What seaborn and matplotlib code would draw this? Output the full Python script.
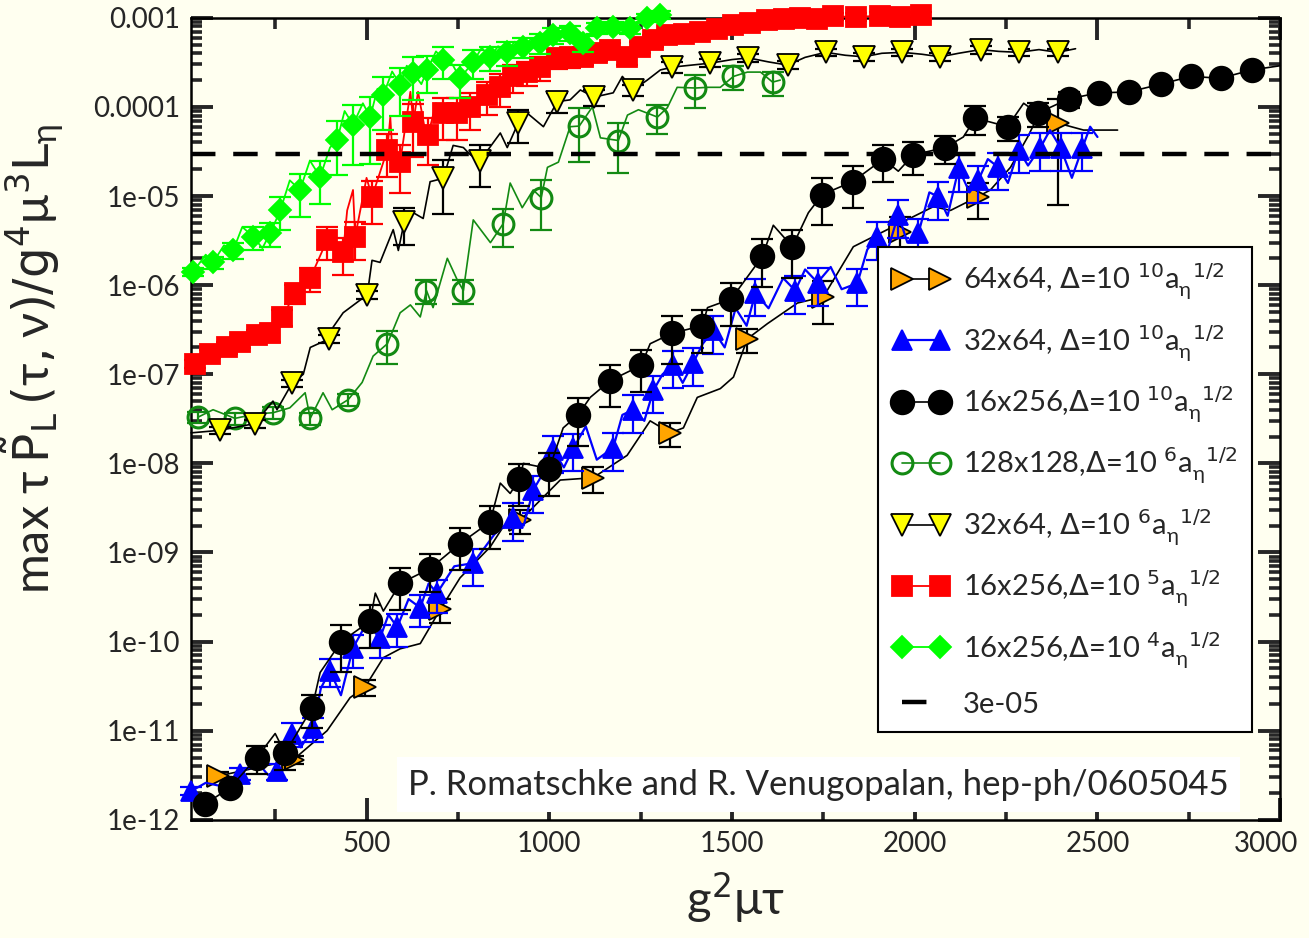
import numpy as np
import pandas as pd
import matplotlib
matplotlib.use('Agg')
import matplotlib.pyplot as plt
import matplotlib.transforms as mtransforms
import seaborn as sns
from matplotlib.lines import Line2D
from matplotlib.ticker import MultipleLocator, FixedLocator, FixedFormatter, LogLocator, NullFormatter

# ---- data ----
# 64x64, Delta=10^10 (orange right triangles, black line)
or_x = [94, 299, 496, 702, 921, 1120, 1331, 1542, 1750, 1960, 2172, 2391]
or_y = [3.1e-12, 4.7e-12, 3.1e-11, 2.3e-10, 2.3e-9, 6.9e-9, 2.2e-8, 2.5e-7, 7.4e-7, 4e-6, 9.8e-6, 6.6e-5]
or_rel = [0.1, 0.1, 0.2, 0.3, 0.3, 0.33, 0.3, 0.3, 0.5, 0.45, 0.43, 0.88]
or_lx = [94, 299, 392, 455, 496, 546, 592, 647, 702, 756, 838, 871, 921, 1030, 1120, 1213, 1276, 1331,
         1367, 1405, 1468, 1504, 1542, 1597, 1679, 1750, 1832, 1925, 2051, 2098, 2172, 2207, 2262,
         2309, 2336, 2391, 2462, 2555]
or_ly = [3.1e-12, 4.7e-12, 1.0e-11, 2.35e-11, 3.1e-11, 6.6e-11, 8.3e-11, 9.5e-11, 2.3e-10, 5.2e-10,
         1.15e-9, 1.86e-9, 2.3e-9, 6.5e-9, 6.9e-9, 1.23e-8, 3.0e-8, 2.2e-8, 2.5e-8, 5.5e-8, 6.9e-8,
         9.3e-8, 2.5e-7, 3.7e-7, 6.3e-7, 7.4e-7, 2.7e-6, 4.2e-6, 7.6e-6, 6.9e-6, 9.8e-6, 1.17e-5,
         2.1e-5, 4.6e-5, 7.7e-5, 6.6e-5, 5.5e-5, 5.5e-5]

# 32x64, Delta=10^10 (blue triangles)
bl_x = [20, 154, 255, 296, 354, 400, 463, 537, 584, 647, 693, 792, 901, 956, 1011, 1066, 1175, 1230,
        1285, 1339, 1394, 1449, 1564, 1673, 1734, 1843, 1898, 1955, 2010, 2065, 2120, 2174, 2229,
        2284, 2344, 2399, 2459]
bl_y = [2.1e-12, 3.3e-12, 3.5e-12, 9.3e-12, 1.07e-11, 4.7e-11, 8.5e-11, 1.1e-10, 1.45e-10, 2.4e-10,
        3.5e-10, 7.6e-10, 2.45e-9, 5e-9, 1.4e-8, 1.48e-8, 1.5e-8, 4e-8, 6.6e-8, 1.26e-7, 1.35e-7,
        3.1e-7, 8.1e-7, 8.7e-7, 1.07e-6, 1.05e-6, 3.5e-6, 6.2e-6, 3.8e-6, 9.8e-6, 2.04e-5, 1.5e-5,
        2.1e-5, 3.3e-5, 3.5e-5, 3.5e-5, 3.5e-5]
bl_rel = [0.1, 0.15, 0.2, 0.3, 0.3, 0.35, 0.4, 0.4, 0.4, 0.4, 0.4, 0.45, 0.45, 0.45, 0.45, 0.45, 0.45,
          0.45, 0.45, 0.45, 0.45, 0.45, 0.45, 0.45, 0.45, 0.45, 0.45, 0.45, 0.45, 0.45, 0.45, 0.45,
          0.45, 0.45, 0.45, 0.45, 0.45]
bl_lx = [20, 60, 100, 154, 200, 230, 255, 275, 296, 320, 354, 375, 400, 430, 463, 500, 537, 560, 584,
         615, 647, 670, 693, 740, 792, 850, 901, 930, 956, 985, 1011, 1040, 1066, 1100, 1130, 1175,
         1200, 1230, 1260, 1285, 1310, 1339, 1365, 1394, 1420, 1449, 1480, 1510, 1540, 1564, 1600,
         1640, 1673, 1700, 1734, 1770, 1800, 1843, 1870, 1898, 1925, 1955, 1980, 2010, 2040, 2065,
         2090, 2120, 2150, 2174, 2200, 2229, 2255, 2284, 2310, 2344, 2370, 2399, 2430, 2459, 2480, 2500]
bl_ly = [2.1e-12, 2.6e-12, 2.4e-12, 3.3e-12, 4.5e-12, 3.2e-12, 3.5e-12, 6e-12, 9.3e-12, 6.5e-12,
         1.07e-11, 3e-11, 4.7e-11, 2.5e-11, 8.5e-11, 1.6e-10, 1.1e-10, 2e-10, 1.45e-10, 3e-10, 2.4e-10,
         4.5e-10, 3.5e-10, 7e-10, 7.6e-10, 1.6e-9, 2.45e-9, 2.0e-9, 5e-9, 8e-9, 1.4e-8, 9e-9, 1.48e-8,
         2.6e-8, 1.1e-8, 1.5e-8, 3.5e-8, 4e-8, 3e-8, 6.6e-8, 1.0e-7, 1.26e-7, 8e-8, 1.35e-7, 2.2e-7,
         3.1e-7, 2.0e-7, 5.5e-7, 3.5e-7, 8.1e-7, 5.5e-7, 1.2e-6, 8.7e-7, 1.5e-6, 1.07e-6, 1.6e-6, 9e-7,
         1.05e-6, 2.5e-6, 3.5e-6, 2.4e-6, 6.2e-6, 3e-6, 3.8e-6, 1.1e-5, 9.8e-6, 6e-6, 2.04e-5, 1.1e-5,
         1.5e-5, 2.6e-5, 2.1e-5, 1.4e-5, 3.3e-5, 2.2e-5, 3.5e-5, 5.5e-5, 3.5e-5, 1.6e-5, 3.5e-5, 6e-5,
         4.6e-5]

# 16x256, Delta=10^10 (black circles)
bk_x = [58, 127, 200, 277, 351, 431, 510, 592, 674, 756, 838, 918, 1000, 1079, 1167, 1252, 1337, 1419,
        1498, 1583, 1665, 1747, 1830, 1914, 1996, 2084, 2166, 2254, 2336, 2421, 2503, 2585, 2673,
        2755, 2837, 2922]
bk_y = [1.5e-12, 2.3e-12, 5e-12, 5.6e-12, 1.8e-11, 1.0e-10, 1.7e-10, 4.5e-10, 6.6e-10, 1.26e-9, 2.2e-9,
        6.6e-9, 8.7e-9, 3.5e-8, 8.5e-8, 1.26e-7, 2.9e-7, 3.5e-7, 7e-7, 2.1e-6, 2.7e-6, 1.04e-5,
        1.45e-5, 2.6e-5, 2.9e-5, 3.5e-5, 7.5e-5, 6e-5, 8.5e-5, 1.23e-4, 1.44e-4, 1.47e-4, 1.8e-4,
        2.2e-4, 2.1e-4, 2.6e-4]
bk_rel = [0.0, 0.0, 0.35, 0.35, 0.4, 0.55, 0.5, 0.5, 0.45, 0.5, 0.5, 0.5, 0.5, 0.55, 0.5, 0.5, 0.55,
          0.5, 0.5, 0.55, 0.55, 0.55, 0.5, 0.45, 0.4, 0.35, 0.35, 0.3, 0.3, 0.2, 0, 0, 0, 0, 0, 0]
bk_lx = [58, 127, 200, 250, 277, 351, 373, 431, 510, 524, 546, 592, 674, 756, 838, 866, 893, 918, 929,
         1000, 1038, 1079, 1112, 1167, 1252, 1276, 1337, 1419, 1433, 1498, 1583, 1613, 1665, 1709,
         1747, 1830, 1914, 1955, 1996, 2084, 2133, 2166, 2254, 2298, 2336, 2421, 2503, 2585, 2673,
         2755, 2837, 2922, 3000]
bk_ly = [1.5e-12, 2.3e-12, 5e-12, 9.3e-12, 5.6e-12, 1.8e-11, 4.5e-11, 1.0e-10, 1.7e-10, 3.5e-10,
         2.2e-10, 4.5e-10, 6.6e-10, 1.26e-9, 2.2e-9, 6e-9, 4.6e-9, 6.6e-9, 1e-8, 8.7e-9, 2.5e-8,
         3.5e-8, 5.5e-8, 8.5e-8, 1.26e-7, 2.2e-7, 2.9e-7, 3.5e-7, 5.6e-7, 7e-7, 2.1e-6, 4.7e-6,
         2.7e-6, 6.5e-6, 1.04e-5, 1.45e-5, 2.6e-5, 1.9e-5, 2.9e-5, 3.5e-5, 4.6e-5, 7.5e-5, 6e-5,
         1.1e-4, 8.5e-5, 1.23e-4, 1.44e-4, 1.47e-4, 1.8e-4, 2.2e-4, 2.1e-4, 2.6e-4, 2.9e-4]

# 128x128, Delta=10^6 (green open circles)
gr_x = [39, 140, 244, 346, 450, 557, 664, 765, 874, 978, 1082, 1189, 1296, 1400, 1504, 1611]
gr_y = [3.3e-8, 3.2e-8, 3.7e-8, 3.2e-8, 5.2e-8, 2.2e-7, 8.7e-7, 8.7e-7, 4.9e-6, 9.6e-6, 6.1e-5,
        4.2e-5, 7.7e-5, 1.63e-4, 2.2e-4, 1.9e-4]
gr_rel = [0.15, 0.15, 0.15, 0.15, 0.15, 0.4, 0.3, 0.3, 0.45, 0.57, 0.6, 0.57, 0.35, 0.4, 0.3, 0.3]
gr_lx = [39, 80, 140, 200, 244, 290, 332, 346, 381, 406, 450, 488, 518, 557, 592, 620, 647, 664, 682,
         721, 748, 765, 792, 839, 874, 893, 926, 956, 978, 995, 1025, 1057, 1082, 1118, 1140, 1189,
         1214, 1244, 1296, 1323, 1350, 1400, 1433, 1468, 1504, 1542, 1578, 1611, 1632]
gr_ly = [3.3e-8, 4.0e-8, 3.2e-8, 3.6e-8, 3.7e-8, 4.2e-8, 6.2e-8, 3.2e-8, 6.2e-8, 4e-8, 5.2e-8, 8.1e-8,
         1.6e-7, 2.2e-7, 4.9e-7, 6e-7, 4.4e-7, 8.7e-7, 5.6e-7, 2e-6, 1.15e-6, 8.7e-7, 5.4e-6, 3e-6,
         4.9e-6, 1.4e-5, 7.4e-6, 1.17e-5, 9.6e-6, 2.1e-5, 2.4e-5, 6e-5, 6.1e-5, 1e-4, 4.5e-5, 4.2e-5,
         8.1e-5, 9.3e-5, 7.7e-5, 9.8e-5, 1.66e-4, 1.63e-4, 1.66e-4, 1.66e-4, 2.2e-4, 2.46e-4, 2.46e-4,
         1.9e-4, 2e-4]

# 32x64, Delta=10^6 (yellow down triangles, black line)
ye_x = [99, 195, 296, 398, 502, 603, 710, 811, 915, 1022, 1123, 1230, 1337, 1441, 1545, 1652, 1756,
        1860, 1966, 2070, 2180, 2284, 2391]
ye_y = [2.35e-8, 2.8e-8, 7.9e-8, 2.5e-7, 7.8e-7, 5.1e-6, 1.58e-5, 2.5e-5, 6.6e-5, 1.15e-4, 1.29e-4,
        1.55e-4, 2.8e-4, 3.1e-4, 3.55e-4, 2.95e-4, 4.1e-4, 3.65e-4, 4.1e-4, 3.65e-4, 4.4e-4, 4.1e-4,
        4.1e-4]
ye_rel = [0.1, 0.1, 0.1, 0.1, 0.1, 0.45, 0.6, 0.5, 0.4, 0.25, 0.2, 0.15, 0.15, 0.1, 0.1, 0.1, 0.1,
          0.1, 0.1, 0.1, 0.1, 0.1, 0.1]
ye_lx = [20, 99, 195, 244, 255, 296, 327, 346, 398, 409, 436, 502, 515, 537, 573, 587, 603, 628, 655,
         674, 710, 737, 765, 784, 811, 866, 885, 915, 940, 984, 1022, 1057, 1085, 1123, 1175, 1200,
         1230, 1268, 1304, 1337, 1441, 1500, 1545, 1600, 1652, 1700, 1756, 1810, 1860, 1910, 1966,
         2020, 2070, 2120, 2180, 2230, 2284, 2340, 2391, 2440]
ye_ly = [2.2e-8, 2.35e-8, 2.8e-8, 5e-8, 4e-8, 7.9e-8, 1.0e-7, 2e-7, 2.5e-7, 3.4e-7, 4.9e-7, 7.8e-7,
         1.9e-6, 1.8e-6, 4.2e-6, 2.45e-6, 5.1e-6, 6.5e-6, 5.6e-6, 1.45e-5, 1.58e-5, 3.7e-5, 3.5e-5,
         2.9e-5, 2.5e-5, 5.1e-5, 3.5e-5, 6.6e-5, 8.5e-5, 6e-5, 1.15e-4, 1.2e-4, 1.55e-4, 1.29e-4,
         1.44e-4, 2.2e-4, 1.55e-4, 2e-4, 2.6e-4, 2.8e-4, 3.1e-4, 3.4e-4, 3.55e-4, 3.2e-4, 2.95e-4,
         3.6e-4, 4.1e-4, 3.8e-4, 3.65e-4, 4.0e-4, 4.1e-4, 3.9e-4, 3.65e-4, 4.0e-4, 4.4e-4, 4.2e-4,
         4.1e-4, 4.4e-4, 4.1e-4, 4.5e-4]

# 16x256, Delta=10^5 (red squares)
rd_x = [31, 72, 119, 154, 201, 236, 269, 305, 346, 392, 436, 469, 515, 557, 592, 628, 669, 710, 748,
        784, 830, 866, 901, 940, 975, 1022, 1057, 1093, 1131, 1167, 1214, 1249, 1285, 1323, 1368,
        1413, 1458, 1504, 1550, 1597, 1642, 1687, 1732, 1777, 1840, 1906, 1960, 2016]
rd_y = [1.3e-7, 1.7e-7, 2.0e-7, 2.3e-7, 2.75e-7, 2.9e-7, 4.4e-7, 8.1e-7, 1.2e-6, 3.2e-6, 2.35e-6,
        3.5e-6, 9.8e-6, 3.3e-5, 2.4e-5, 6.8e-5, 4.9e-5, 8.5e-5, 8.5e-5, 1.0e-4, 1.35e-4, 1.66e-4,
        2.2e-4, 2.46e-4, 2.8e-4, 3.55e-4, 3.65e-4, 3.65e-4, 4.05e-4, 4.4e-4, 3.65e-4, 4.7e-4, 5.6e-4,
        6.4e-4, 6.6e-4, 6.9e-4, 7.5e-4, 8.3e-4, 8.8e-4, 9.4e-4, 9.6e-4, 1.0e-3, 9.8e-4, 1.04e-3,
        1.02e-3, 1.06e-3, 1.03e-3, 1.07e-3]
rd_rel = [0.1, 0.1, 0.15, 0.15, 0.15, 0.2, 0.2, 0.25, 0.3, 0.4, 0.45, 0.45, 0.5, 0.5, 0.55, 0.6,
          0.55, 0.5, 0.5, 0.45, 0.4, 0.4, 0.35, 0.3, 0.3, 0.25, 0.25, 0.2, 0.2, 0.2, 0.2, 0.15, 0.15,
          0.1, 0.1, 0.1, 0.1, 0.1, 0.1, 0.1, 0.1, 0.1, 0.1, 0.1, 0.1, 0.1, 0.1, 0.1]
rd_lx = [31, 72, 119, 154, 201, 236, 269, 305, 346, 392, 436, 447, 463, 469, 500, 515, 557, 565, 573,
         592, 620, 628, 641, 660, 669, 690, 710, 748, 784, 830, 866, 901, 940, 975, 1022, 1057, 1093,
         1131, 1167, 1214, 1249, 1285, 1323, 1368, 1413, 1458, 1504, 1550, 1597, 1642, 1687, 1732,
         1777, 1840, 1906, 1960, 2016]
rd_ly = [1.3e-7, 1.7e-7, 2.0e-7, 2.3e-7, 2.75e-7, 2.9e-7, 4.4e-7, 8.1e-7, 1.2e-6, 3.2e-6, 2.35e-6,
         6.9e-6, 1.17e-5, 3.5e-6, 1.6e-5, 9.8e-6, 3.3e-5, 7.7e-5, 2.1e-5, 2.4e-5, 1.48e-4, 6.8e-5,
         1.48e-4, 5.5e-5, 4.9e-5, 1.1e-4, 8.5e-5, 8.5e-5, 1.0e-4, 1.35e-4, 1.66e-4, 2.2e-4, 2.46e-4,
         2.8e-4, 3.55e-4, 3.65e-4, 3.65e-4, 4.05e-4, 4.4e-4, 3.65e-4, 4.7e-4, 5.6e-4, 6.4e-4, 6.6e-4,
         6.9e-4, 7.5e-4, 8.3e-4, 8.8e-4, 9.4e-4, 9.6e-4, 1.0e-3, 9.8e-4, 1.04e-3, 1.02e-3, 1.06e-3,
         1.03e-3, 1.07e-3]

# 16x256, Delta=10^4 (lime diamonds)
lm_x = [25, 80, 135, 190, 236, 264, 318, 373, 420, 463, 510, 546, 592, 628, 666, 710, 756, 792, 839,
        885, 929, 975, 1011, 1057, 1093, 1131, 1175, 1222, 1268, 1304]
lm_y = [1.4e-6, 1.8e-6, 2.45e-6, 3.5e-6, 3.8e-6, 6.9e-6, 1.17e-5, 1.64e-5, 4.3e-5, 6.3e-5, 7.7e-5,
        1.36e-4, 1.77e-4, 2.4e-4, 2.6e-4, 3.4e-4, 2.1e-4, 3.2e-4, 3.65e-4, 4.15e-4, 4.7e-4, 5.2e-4,
        6.4e-4, 6.8e-4, 5.2e-4, 7.7e-4, 7.9e-4, 7.7e-4, 1.0e-3, 1.08e-3]
lm_rel = [0.1, 0.15, 0.2, 0.3, 0.3, 0.4, 0.5, 0.5, 0.6, 0.65, 0.7, 0.6, 0.55, 0.5, 0.45, 0.4, 0.4,
          0.35, 0.3, 0.3, 0.25, 0.25, 0.2, 0.2, 0.2, 0.15, 0.15, 0.15, 0.1, 0.1]
lm_lx = [25, 60, 80, 110, 135, 160, 190, 215, 236, 264, 290, 318, 345, 373, 400, 420, 440, 463, 490,
         510, 530, 546, 570, 592, 610, 628, 650, 666, 690, 710, 735, 756, 792, 815, 839, 860, 885, 905,
         929, 950, 975, 1011, 1057, 1093, 1131, 1175, 1222, 1268, 1304]
lm_ly = [1.4e-6, 2.2e-6, 1.8e-6, 2.8e-6, 2.45e-6, 4.5e-6, 3.5e-6, 2.6e-6, 3.8e-6, 6.9e-6, 1.5e-5,
         1.17e-5, 2.5e-5, 1.64e-5, 3.5e-5, 4.3e-5, 9e-5, 6.3e-5, 1.1e-4, 7.7e-5, 1.6e-4, 1.36e-4,
         2.5e-4, 1.77e-4, 2.9e-4, 2.4e-4, 1.8e-4, 2.6e-4, 4.2e-4, 3.4e-4, 3.0e-4, 2.1e-4, 3.2e-4,
         4.6e-4, 3.65e-4, 4.8e-4, 4.15e-4, 5.4e-4, 4.7e-4, 5.8e-4, 5.2e-4, 6.4e-4, 6.8e-4, 5.2e-4,
         7.7e-4, 7.9e-4, 7.7e-4, 1.0e-3, 1.08e-3]

threshold = 3e-05

labels = [r'64x64, $\Delta$=10 $^{10}$a$_{\mathregular{\eta}}^{\ \ 1/2}$',
          r'32x64, $\Delta$=10 $^{10}$a$_{\mathregular{\eta}}^{\ \ 1/2}$',
          r'16x256,$\Delta$=10 $^{10}$a$_{\mathregular{\eta}}^{\ \ 1/2}$',
          r'128x128,$\Delta$=10 $^{6}$a$_{\mathregular{\eta}}^{\ \ 1/2}$',
          r'32x64, $\Delta$=10 $^{6}$a$_{\mathregular{\eta}}^{\ \ 1/2}$',
          r'16x256,$\Delta$=10 $^{5}$a$_{\mathregular{\eta}}^{\ \ 1/2}$',
          r'16x256,$\Delta$=10 $^{4}$a$_{\mathregular{\eta}}^{\ \ 1/2}$',
          '3e-05']

x_ticks = [500, 1000, 1500, 2000, 2500, 3000]
y_ticks = [1e-12, 1e-11, 1e-10, 1e-9, 1e-8, 1e-7, 1e-6, 1e-5, 1e-4, 1e-3]
y_ticklabels = ['1e-12', '1e-11', '1e-10', '1e-09', '1e-08', '1e-07', '1e-06', '1e-05', '0.0001', '0.001']

# ---- style ----
sns.set_style('ticks')
bg = '#fffff0'
plt.rcParams['font.family'] = ['Lato', 'DejaVu Sans']
plt.rcParams['mathtext.fontset'] = 'dejavusans'
plt.rcParams['figure.facecolor'] = bg
plt.rcParams['axes.facecolor'] = bg

fig = plt.figure(figsize=(13.09, 9.38), dpi=100)
ax = fig.add_axes([0.146, 0.126, 0.832, 0.855])
ax.set_yscale('log')

# series: (mx, my, rel, lx, ly, line color, marker, ms, face, edge, bar color, line width)
series = [
    (or_x, or_y, or_rel, or_lx, or_ly, 'black', '>', 16, '#ffa500', 'black', 'black', 1.2),
    (bl_x, bl_y, bl_rel, bl_lx, bl_ly, '#0000ff', '^', 15, '#0000ff', '#0000ff', '#0000ff', 1.6),
    (bk_x, bk_y, bk_rel, bk_lx, bk_ly, 'black', 'o', 17, 'black', 'black', 'black', 1.2),
    (gr_x, gr_y, gr_rel, gr_lx, gr_ly, '#138a13', 'o', 15, 'none', '#138a13', '#138a13', 1.2),
    (ye_x, ye_y, ye_rel, ye_lx, ye_ly, 'black', 'v', 16, '#ffff00', 'black', 'black', 1.2),
    (rd_x, rd_y, rd_rel, rd_lx, rd_ly, '#ff0000', 's', 15, '#ff0000', '#ff0000', '#ff0000', 1.3),
    (lm_x, lm_y, lm_rel, lm_lx, lm_ly, '#00ff00', 'D', 11, '#00ff00', '#00ff00', '#00ff00', 1.3),
]

handles = []
for i, (mx, my, rel, lx, ly, lc, mk, ms, fc, ec, bc, lw) in enumerate(series):
    z = 3 + i
    line_df = pd.DataFrame({'x': lx, 'y': ly})
    sns.lineplot(data=line_df, x='x', y='y', ax=ax, color=lc, lw=lw, estimator=None,
                 sort=False, legend=False, zorder=z, clip_on=False)
    mx = np.array(mx)
    my = np.array(my)
    err = np.array(rel) * my
    ax.errorbar(mx, my, yerr=err, fmt='none', ecolor=bc, elinewidth=1.6, capsize=8,
                capthick=1.6, zorder=z + 0.2, clip_on=False)
    mew = 2.2 if fc == 'none' else 1.3
    ax.plot(mx, my, ls='none', marker=mk, ms=ms, mfc=fc, mec=ec, mew=mew,
            zorder=z + 0.5, clip_on=False)
    handles.append(Line2D([0], [0], color=lc, lw=lw, marker=mk, ms=ms, mfc=fc, mec=ec, mew=mew))

ax.axhline(threshold, color='black', lw=3.2, dashes=(5.5, 4), zorder=12)
handles.append(Line2D([0], [0], color='black', lw=3.2, dashes=(5.5, 4)))

# ---- axes ----
ax.set_xlim(20, 3000)
ax.set_ylim(1e-12, 1e-3)
ax.xaxis.set_major_locator(FixedLocator(x_ticks))
ax.xaxis.set_minor_locator(MultipleLocator(250))
ax.yaxis.set_major_locator(FixedLocator(y_ticks))
ax.yaxis.set_major_formatter(FixedFormatter(y_ticklabels))
ax.yaxis.set_minor_locator(LogLocator(base=10, subs=np.arange(2, 10), numticks=20))
ax.yaxis.set_minor_formatter(NullFormatter())
ax.tick_params(which='both', direction='in', top=True, right=True, labelsize=20, pad=8)
ax.tick_params(which='major', length=16, width=2.8)
ax.tick_params(which='minor', length=8, width=2.6)
for s in ax.spines.values():
    s.set_linewidth(1.8)
    s.set_color('black')

# keep the last x tick label inside the figure
fig.canvas.draw()
last = ax.get_xticklabels()[-1]
last.set_transform(last.get_transform() + mtransforms.ScaledTranslation(-10 / 72, 0, fig.dpi_scale_trans))

ax.set_xlabel(r'g$^{2}\mathregular{\mu\tau}$', fontsize=34)
ax.set_ylabel(r'max $\mathregular{\tau}\,\tilde{\mathrm{P}}_{\mathrm{L}}\,(\mathregular{\tau},\mathregular{\nu})'
              r'/\mathrm{g}^{4}\mathregular{\mu}^{3}\mathrm{L}_{\mathregular{\eta}}$',
              fontsize=35)
ax.xaxis.set_label_coords(0.5, -0.062)
ax.yaxis.set_label_coords(-0.115, 0.575)

leg = ax.legend(handles, labels, loc='upper left', bbox_to_anchor=(0.631, 0.714), borderaxespad=0,
                fontsize=21, numpoints=2, handlelength=1.9, labelspacing=0.72, borderpad=0.5,
                handletextpad=0.5, frameon=True, fancybox=False, framealpha=1, facecolor='white',
                edgecolor='black')
leg.get_frame().set_linewidth(1.5)
leg.set_zorder(20)

ax.text(0.576, 0.044, 'P. Romatschke and R. Venugopalan, hep-ph/0605045', transform=ax.transAxes,
        fontsize=25, ha='center', va='center', zorder=19,
        bbox=dict(facecolor='white', edgecolor='none', pad=8))

fig.savefig('out.png', dpi=100, facecolor=bg)
